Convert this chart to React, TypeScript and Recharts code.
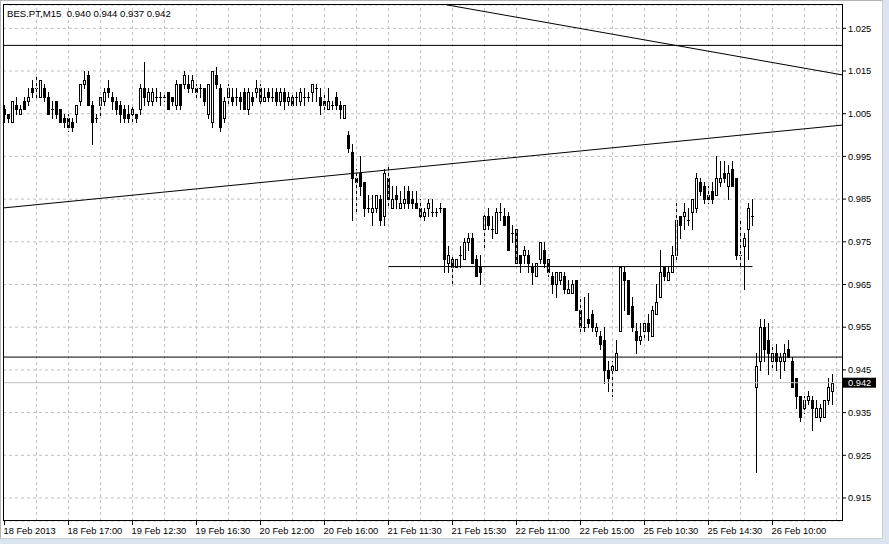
import React from "react";
import { ComposedChart, Bar, XAxis, YAxis, CartesianGrid, ReferenceLine } from "recharts";

const FONT = '"Liberation Sans", Arial, sans-serif';
const TITLE = "BES.PT,M15  0.940 0.944 0.937 0.942";

const opens = [
  1.006,1.005,1.003,1.007,1.005,1.008,1.008,1.011,1.011,1.009,
  1.011,1.009,1.006,1.008,1.006,1.004,1.004,1.003,1.005,1.008,
  1.012,1.014,1.007,1.004,1.007,1.008,1.011,1.009,1.008,1.007,
  1.006,1.005,1.005,1.005,1.006,1.011,1.008,1.008,1.009,1.009,
  1.009,1.010,1.009,1.007,1.012,1.012,1.012,1.011,1.011,1.011,
  1.011,1.005,1.003,1.014,1.011,1.004,1.009,1.009,1.009,1.009,
  1.010,1.006,1.009,1.010,1.011,1.008,1.010,1.009,1.010,1.008,
  1.010,1.008,1.009,1.009,1.008,1.009,1.009,1.010,1.011,1.009,
  1.008,1.006,1.007,1.009,1.007,1.004,1.000,0.996,0.990,0.991,
  0.989,0.983,0.982,0.983,0.985,0.981,0.990,0.983,0.986,0.983,
  0.984,0.987,0.985,0.984,0.983,0.981,0.983,0.982,0.982,0.983,
  0.983,0.970,0.971,0.969,0.972,0.971,0.975,0.976,0.971,0.969,
  0.978,0.981,0.978,0.977,0.982,0.981,0.981,0.977,0.978,0.972,
  0.972,0.972,0.969,0.967,0.971,0.973,0.971,0.967,0.965,0.966,
  0.967,0.963,0.963,0.966,0.959,0.955,0.957,0.958,0.954,0.953,
  0.952,0.945,0.945,0.945,0.954,0.968,0.966,0.960,0.954,0.952,
  0.954,0.956,0.953,0.958,0.962,0.969,0.966,0.968,0.972,0.981,
  0.981,0.980,0.982,0.983,0.989,0.988,0.986,0.987,0.986,0.989,
  0.991,0.988,0.992,0.990,0.972,0.974,0.978,0.981,0.941,0.947,
  0.955,0.952,0.947,0.949,0.947,0.947,0.950,0.947,0.943,0.939,
  0.936,0.938,0.938,0.934,0.934,0.934,0.938,0.940,
];

const highs = [
  1.007,1.005,1.008,1.009,1.007,1.009,1.011,1.013,1.014,1.013,
  1.012,1.010,1.008,1.008,1.006,1.005,1.005,1.004,1.007,1.012,
  1.015,1.015,1.008,1.005,1.009,1.011,1.013,1.010,1.009,1.008,
  1.007,1.007,1.007,1.005,1.012,1.017,1.011,1.011,1.011,1.010,
  1.010,1.010,1.009,1.013,1.012,1.015,1.014,1.014,1.012,1.012,
  1.011,1.012,1.015,1.016,1.012,1.009,1.012,1.011,1.011,1.010,
  1.011,1.011,1.010,1.013,1.012,1.011,1.011,1.011,1.011,1.011,
  1.011,1.010,1.010,1.010,1.011,1.011,1.010,1.012,1.012,1.011,
  1.010,1.011,1.008,1.010,1.008,1.007,1.001,0.998,0.992,0.995,
  0.989,0.986,0.986,0.986,0.986,0.992,0.993,0.988,0.988,0.987,
  0.988,0.988,0.987,0.987,0.985,0.983,0.985,0.985,0.983,0.984,
  0.983,0.974,0.972,0.971,0.974,0.976,0.977,0.977,0.972,0.972,
  0.982,0.983,0.981,0.983,0.984,0.983,0.982,0.979,0.978,0.972,
  0.974,0.973,0.970,0.970,0.975,0.975,0.971,0.968,0.968,0.968,
  0.968,0.966,0.966,0.966,0.962,0.962,0.963,0.959,0.956,0.954,
  0.955,0.947,0.947,0.952,0.969,0.969,0.966,0.962,0.956,0.956,
  0.956,0.958,0.960,0.965,0.973,0.969,0.969,0.974,0.984,0.981,
  0.984,0.983,0.985,0.991,0.990,0.989,0.988,0.989,0.995,0.994,
  0.994,0.993,0.994,0.990,0.980,0.977,0.984,0.985,0.949,0.957,
  0.957,0.956,0.951,0.951,0.949,0.951,0.952,0.948,0.943,0.939,
  0.939,0.940,0.939,0.938,0.937,0.938,0.943,0.944,
];

const lows = [
  1.003,1.003,1.003,1.005,1.005,1.006,1.007,1.009,1.009,1.009,
  1.008,1.005,1.004,1.004,1.003,1.002,1.001,1.001,1.003,1.007,
  1.011,1.007,0.998,1.003,1.004,1.007,1.009,1.006,1.005,1.003,
  1.003,1.003,1.003,1.003,1.005,1.007,1.007,1.007,1.008,1.007,
  1.008,1.006,1.007,1.006,1.006,1.011,1.010,1.010,1.009,1.009,
  1.007,1.004,1.002,1.011,1.001,1.003,1.007,1.007,1.007,1.006,
  1.006,1.005,1.007,1.009,1.007,1.008,1.008,1.008,1.007,1.007,
  1.006,1.007,1.007,1.007,1.007,1.007,1.008,1.008,1.008,1.005,
  1.006,1.006,1.006,1.006,1.004,1.004,0.996,0.980,0.982,0.986,
  0.981,0.982,0.979,0.982,0.979,0.979,0.983,0.983,0.983,0.983,
  0.983,0.983,0.983,0.983,0.980,0.980,0.981,0.981,0.981,0.982,
  0.968,0.968,0.965,0.969,0.969,0.971,0.973,0.970,0.967,0.965,
  0.973,0.978,0.976,0.977,0.980,0.979,0.973,0.975,0.970,0.968,
  0.970,0.968,0.965,0.967,0.970,0.969,0.967,0.963,0.962,0.965,
  0.963,0.963,0.963,0.959,0.954,0.954,0.955,0.954,0.953,0.950,
  0.942,0.940,0.939,0.945,0.954,0.959,0.958,0.954,0.949,0.951,
  0.952,0.952,0.953,0.958,0.962,0.966,0.966,0.968,0.971,0.976,
  0.978,0.979,0.978,0.982,0.986,0.984,0.984,0.984,0.986,0.988,
  0.989,0.985,0.988,0.971,0.969,0.964,0.971,0.979,0.921,0.945,
  0.947,0.944,0.945,0.945,0.943,0.945,0.948,0.941,0.936,0.933,
  0.935,0.937,0.931,0.934,0.933,0.934,0.937,0.937,
];

const closes = [
  1.005,1.004,1.008,1.006,1.006,1.006,1.009,1.010,1.011,1.013,
  1.009,1.005,1.006,1.005,1.003,1.003,1.002,1.002,1.007,1.012,
  1.013,1.007,1.003,1.004,1.009,1.010,1.010,1.008,1.006,1.005,
  1.004,1.004,1.006,1.004,1.011,1.009,1.010,1.010,1.009,1.009,
  1.009,1.006,1.008,1.012,1.007,1.014,1.011,1.013,1.010,1.011,
  1.008,1.012,1.015,1.012,1.002,1.008,1.011,1.008,1.009,1.008,
  1.006,1.010,1.008,1.011,1.008,1.009,1.009,1.009,1.008,1.010,
  1.008,1.009,1.007,1.009,1.010,1.009,1.009,1.012,1.011,1.007,
  1.007,1.008,1.007,1.007,1.006,1.007,0.997,0.990,0.989,0.988,
  0.983,0.983,0.983,0.986,0.980,0.991,0.985,0.985,0.985,0.984,
  0.985,0.984,0.984,0.983,0.981,0.982,0.984,0.982,0.982,0.983,
  0.971,0.972,0.969,0.971,0.972,0.975,0.976,0.970,0.967,0.968,
  0.981,0.979,0.978,0.982,0.982,0.979,0.973,0.977,0.970,0.970,
  0.973,0.970,0.968,0.970,0.975,0.970,0.968,0.965,0.968,0.968,
  0.964,0.964,0.965,0.959,0.955,0.955,0.956,0.955,0.955,0.951,
  0.945,0.943,0.946,0.949,0.969,0.966,0.958,0.955,0.952,0.953,
  0.956,0.954,0.959,0.961,0.968,0.967,0.968,0.972,0.980,0.979,
  0.982,0.980,0.985,0.990,0.987,0.985,0.985,0.985,0.990,0.990,
  0.990,0.991,0.988,0.972,0.972,0.976,0.983,0.981,0.946,0.955,
  0.950,0.949,0.949,0.947,0.948,0.949,0.948,0.941,0.939,0.934,
  0.938,0.939,0.936,0.936,0.936,0.938,0.941,0.942,
];

const timeLabels = [
  "18 Feb 2013", "18 Feb 17:00", "19 Feb 12:30", "19 Feb 16:30", "20 Feb 12:00",
  "20 Feb 16:00", "21 Feb 11:30", "21 Feb 15:30", "22 Feb 11:00", "22 Feb 15:00",
  "25 Feb 10:30", "25 Feb 14:30", "26 Feb 10:00",
];
const labelBars = [0, 16, 32, 48, 64, 80, 96, 112, 128, 144, 160, 176, 192];
const gridBars = [8, 16, 24, 32, 40, 48, 56, 64, 72, 80, 88, 96, 104, 112, 120, 128, 136, 144, 152, 160, 168, 176, 184, 192, 200, 208];
const priceTicks = [1.025, 1.015, 1.005, 0.995, 0.985, 0.975, 0.965, 0.955, 0.945, 0.935, 0.925, 0.915];

const lastPrice = 0.942;
const levelLines = [1.021, 0.948];
const supportLevel = 0.9692;
const supportFrom = 96;
const supportTo = 187;
const trendDown = [{ x: 110.5, y: 1.0305 }, { x: 209.625, y: 1.01406 }];
const trendUp = [{ x: -0.375, y: 0.98292 }, { x: 209.625, y: 1.00235 }];

const X_DOMAIN: [number, number] = [-0.375, 209.625];
const Y_DOMAIN: [number, number] = [0.90961, 1.03046];

const data = opens.map((o, i) => ({
  i,
  open: o,
  high: highs[i],
  low: lows[i],
  close: closes[i],
  range: [lows[i], highs[i]],
}));

const Candle = (props: any) => {
  const { x, y, width, height, payload } = props;
  if (!payload || x == null || y == null) return null;
  const top0 = Math.min(y, y + height);
  const h = Math.abs(height);
  const { open, close, high, low } = payload;
  const span = high - low;
  const py = (p: number) => (span > 0 ? top0 + ((high - p) / span) * h : top0);
  const cx = Math.floor(x + width / 2);
  const top = Math.round(py(high));
  const bot = Math.round(py(low));
  const oy = Math.round(py(open));
  const cy = Math.round(py(close));
  const bTop = Math.min(oy, cy);
  const bBot = Math.max(oy, cy);
  let body: any = null;
  if (close > open) {
    body = (
      <rect x={cx - 0.5} y={bTop + 0.5} width={2} height={Math.max(bBot - bTop, 1)} fill="#fff" stroke="#000" strokeWidth={1} />
    );
  } else if (close < open) {
    body = <rect x={cx - 1} y={bTop} width={3} height={bBot - bTop + 1} fill="#000" />;
  } else {
    body = <rect x={cx - 1} y={oy} width={3} height={1} fill="#000" />;
  }
  return (
    <g>
      <rect x={cx} y={top} width={1} height={bot - top + 1} fill="#000" />
      {body}
    </g>
  );
};

const XTick = (props: any) => {
  const { x, y, payload } = props;
  const idx = labelBars.indexOf(payload.value);
  if (idx < 0) return null;
  return (
    <g>
      <line x1={x} x2={x} y1={y} y2={y + 4} stroke="#000" strokeWidth={1} />
      <text x={x - 1} y={y + 12.5} fill="#000" fontSize={9.3} fontFamily={FONT} textAnchor="start">
        {timeLabels[idx]}
      </text>
    </g>
  );
};

const BidLabel = (props: any) => {
  const vb = props.viewBox || {};
  const right = (vb.x ?? 0) + (vb.width ?? 0);
  const yy = vb.y ?? 0;
  return (
    <g>
      <rect x={right} y={yy - 5} width={33} height={10} fill="#000" />
      <text x={right + 5} y={yy + 3.3} fill="#fff" fontSize={9.3} fontFamily={FONT}>
        {lastPrice.toFixed(3)}
      </text>
    </g>
  );
};

export default function App() {
  return (
    <div style={{ position: "absolute", left: 0, top: 0, width: 889, height: 544, background: "#dbe5f2", overflow: "hidden" }}>
      <div
        style={{
          position: "absolute", left: 0, top: 0, width: 883, height: 539, background: "#fff",
          borderTop: "1px solid #b4b4b4", borderLeft: "1px solid #b4b4b4", borderRight: "1px solid #cfcfcf",
          borderBottom: "1px solid #cfcfcf", boxSizing: "border-box",
        }}
      />
      <div style={{ position: "absolute", left: 0, top: 0 }}>
        <ComposedChart width={889} height={544} data={data} margin={{ top: 5, right: 0, bottom: 0, left: 3 }}>
          <CartesianGrid vertical={false} stroke="#c0c0c0" strokeDasharray="3 3" />
          <XAxis
            type="number"
            dataKey="i"
            domain={X_DOMAIN}
            allowDataOverflow
            ticks={labelBars}
            interval={0}
            tick={<XTick />}
            tickLine={false}
            axisLine={false}
            tickSize={0}
            tickMargin={0}
            height={23}
          />
          <YAxis
            type="number"
            orientation="right"
            domain={Y_DOMAIN}
            allowDataOverflow
            ticks={priceTicks}
            interval={0}
            width={46}
            axisLine={false}
            tickLine={{ stroke: "#000" }}
            tickSize={3}
            tickMargin={2}
            tick={{ fill: "#000", fontSize: 9.3, fontFamily: FONT, textAnchor: "start" }}
            tickFormatter={(v: number) => v.toFixed(3)}
          />
          {gridBars.map((b) => (
            <ReferenceLine key={"g" + b} x={b} stroke="#c0c0c0" strokeDasharray="3 3" />
          ))}
          <ReferenceLine y={lastPrice} stroke="#c0c0c0" label={<BidLabel />} />
          <Bar dataKey="range" barSize={3} isAnimationActive={false} shape={(p: any) => <Candle {...p} />} />
          {levelLines.map((v) => (
            <ReferenceLine key={"l" + v} y={v} stroke="#000" />
          ))}
          <ReferenceLine
            segment={[{ x: supportFrom, y: supportLevel }, { x: supportTo, y: supportLevel }]}
            stroke="#000"
          />
          <ReferenceLine segment={trendDown} stroke="#000" ifOverflow="hidden" />
          <ReferenceLine segment={trendUp} stroke="#000" ifOverflow="hidden" />
        </ComposedChart>
      </div>
      <div
        style={{
          position: "absolute", left: 3, top: 4, width: 840, height: 517, border: "1px solid #000",
          boxSizing: "border-box", pointerEvents: "none",
        }}
      />
      <div
        style={{
          position: "absolute", left: 7, top: 9, fontFamily: FONT, fontSize: 9.6, lineHeight: "10px",
          color: "#000", whiteSpace: "pre",
        }}
      >
        {TITLE}
      </div>
    </div>
  );
}
